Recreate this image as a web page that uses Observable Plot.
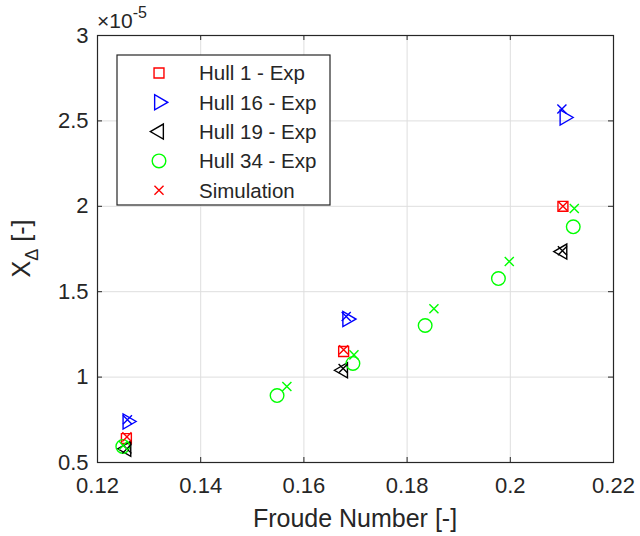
<!DOCTYPE html>
<html><head><meta charset="utf-8">
<script src="https://cdn.jsdelivr.net/npm/d3@7"></script>
<script src="https://cdn.jsdelivr.net/npm/@observablehq/plot@0.6"></script>
<style>body{margin:0;background:#fff;font-family:"Liberation Sans",Arial,Helvetica,sans-serif}</style>
</head><body><div id="chart"></div>
<script>
const xTicks = [0.12, 0.14, 0.16, 0.18, 0.2, 0.22];
const xTickLabels = ["0.12", "0.14", "0.16", "0.18", "0.2", "0.22"];
const yTicks = [0.5, 1, 1.5, 2, 2.5, 3];
const yTickLabels = ["0.5", "1", "1.5", "2", "2.5", "3"];
const xLabel = "Froude Number [-]";
const exponentText = "-5";

// Experimental data (X_Δ in units of 1e-5)
const hull1Fr = [0.1256, 0.1677, 0.2102];
const hull1X  = [0.64, 1.15, 2.0];
const hull16Fr = [0.1258, 0.1684, 0.2105];
const hull16X  = [0.74, 1.34, 2.52];
const hull19Fr = [0.1256, 0.1676, 0.2101];
const hull19X  = [0.58, 1.04, 1.735];
const hull34Fr = [0.1249, 0.1548, 0.1695, 0.1835, 0.1977, 0.2122];
const hull34X  = [0.594, 0.892, 1.08, 1.302, 1.577, 1.88];

// Simulation data
const sim1Fr = [0.1257, 0.1677, 0.2102];
const sim1X  = [0.65, 1.16, 2.0];
const sim16Fr = [0.1258, 0.1682, 0.2100];
const sim16X  = [0.75, 1.355, 2.57];
const sim19Fr = [0.1257, 0.1676, 0.2101];
const sim19X  = [0.58, 1.05, 1.74];
const sim34Fr = [0.1250, 0.1567, 0.1697, 0.1852, 0.1998, 0.2124];
const sim34X  = [0.60, 0.945, 1.13, 1.40, 1.677, 1.987];

const seriesNames = ["Hull 1 - Exp", "Hull 16 - Exp", "Hull 19 - Exp", "Hull 34 - Exp", "Simulation"];
const seriesColors = ["#ff0000", "#0000ff", "#000000", "#00ff00", "#ff0000"];
const seriesSymbols = ["square", "triangle", "triangle", "circle", "times"];
const seriesRotate = [0, 90, -90, 0, 0];
const seriesR = [5.6, 5.6, 5.6, 6.8, 4.2];

const zip = (xs, ys) => xs.map((x, i) => ({x, y: ys[i]}));
const exp = [zip(hull1Fr, hull1X), zip(hull16Fr, hull16X), zip(hull19Fr, hull19X), zip(hull34Fr, hull34X)];
const sims = [zip(sim1Fr, sim1X), zip(sim16Fr, sim16X), zip(sim19Fr, sim19X), zip(sim34Fr, sim34X)];
const simColors = ["#ff0000", "#0000ff", "#000000", "#00ff00"];

const W = 640, H = 536, mL = 97, mR = 27, mT = 35, mB = 74;
const pw = W - mL - mR, ph = H - mT - mB;
const axisColor = "#262626";
const gridColor = "#dedede";
const font = '"Liberation Sans", Arial, Helvetica, sans-serif';

const marks = [
  Plot.ruleX(xTicks, {stroke: gridColor, strokeWidth: 1}),
  Plot.ruleY(yTicks, {stroke: gridColor, strokeWidth: 1}),
  Plot.ruleX(xTicks, {stroke: axisColor, insetTop: ph - 5}),
  Plot.ruleX(xTicks, {stroke: axisColor, insetBottom: ph - 5}),
  Plot.ruleY(yTicks, {stroke: axisColor, insetRight: pw - 5}),
  Plot.ruleY(yTicks, {stroke: axisColor, insetLeft: pw - 5}),
  Plot.axisX(xTicks, {tickSize: 0, tickPadding: 15, label: null, fill: axisColor, fontSize: 22,
    tickFormat: d => xTickLabels[xTicks.indexOf(d)]}),
  Plot.axisY(yTicks, {tickSize: 0, tickPadding: 9, label: null, fill: axisColor, fontSize: 22,
    tickFormat: d => yTickLabels[yTicks.indexOf(d)]}),
  Plot.frame({stroke: axisColor, strokeWidth: 1.2})
];
exp.forEach((data, i) => {
  marks.push(Plot.dot(data, {x: "x", y: "y", symbol: seriesSymbols[i], stroke: seriesColors[i],
    r: seriesR[i], rotate: seriesRotate[i], strokeWidth: 1.4}));
});
sims.forEach((data, i) => {
  marks.push(Plot.dot(data, {x: "x", y: "y", symbol: "times", stroke: simColors[i],
    r: seriesR[4], strokeWidth: 1.4}));
});

const chart = Plot.plot({
  width: W, height: H,
  marginLeft: mL, marginRight: mR, marginTop: mT, marginBottom: mB,
  style: {fontFamily: font, background: "#fff", overflow: "visible"},
  x: {domain: [0.12, 0.22]},
  y: {domain: [0.5, 3]},
  marks
});
document.getElementById("chart").appendChild(chart);

const svg = d3.select(chart);
// X label
svg.append("text").attr("x", mL + pw / 2).attr("y", 527).attr("text-anchor", "middle")
  .attr("font-family", font).attr("font-size", 25).attr("fill", axisColor).text(xLabel);
// Y label with subscript
const yl = svg.append("text").attr("transform", `translate(30,${mT + ph / 2}) rotate(-90)`)
  .attr("text-anchor", "middle").attr("font-family", font).attr("font-size", 25).attr("fill", axisColor);
yl.append("tspan").text("X");
yl.append("tspan").attr("font-size", 18).attr("dy", 8).text("Δ");
yl.append("tspan").attr("dy", -8).text(" [-]");
// Exponent
const ex = svg.append("text").attr("x", 97).attr("y", 28).attr("text-anchor", "start").attr("font-family", font)
  .attr("font-size", 21).attr("fill", axisColor);
ex.append("tspan").text("×10");
ex.append("tspan").attr("font-size", 16).attr("dy", -10).text(exponentText);

// Legend
const lg = svg.append("g").attr("transform", "translate(117,55)");
lg.append("rect").attr("width", 213).attr("height", 150).attr("fill", "#fff").attr("stroke", axisColor).attr("stroke-width", 1.2);
const symMap = {square: d3.symbolSquare, triangle: d3.symbolTriangle, circle: d3.symbolCircle, times: d3.symbolTimes};
seriesNames.forEach((name, i) => {
  const cy = 18 + i * 29.3;
  lg.append("path").attr("d", d3.symbol(symMap[seriesSymbols[i]], Math.PI * seriesR[i] * seriesR[i])())
    .attr("transform", `translate(42,${cy}) rotate(${seriesRotate[i]})`)
    .attr("fill", "none").attr("stroke", seriesColors[i]).attr("stroke-width", 1.4);
  lg.append("text").attr("x", 82).attr("y", cy).attr("dy", "0.36em").attr("text-anchor", "start")
    .attr("font-family", font).attr("font-size", 20.5).attr("fill", axisColor).text(name);
});
</script></body></html>
